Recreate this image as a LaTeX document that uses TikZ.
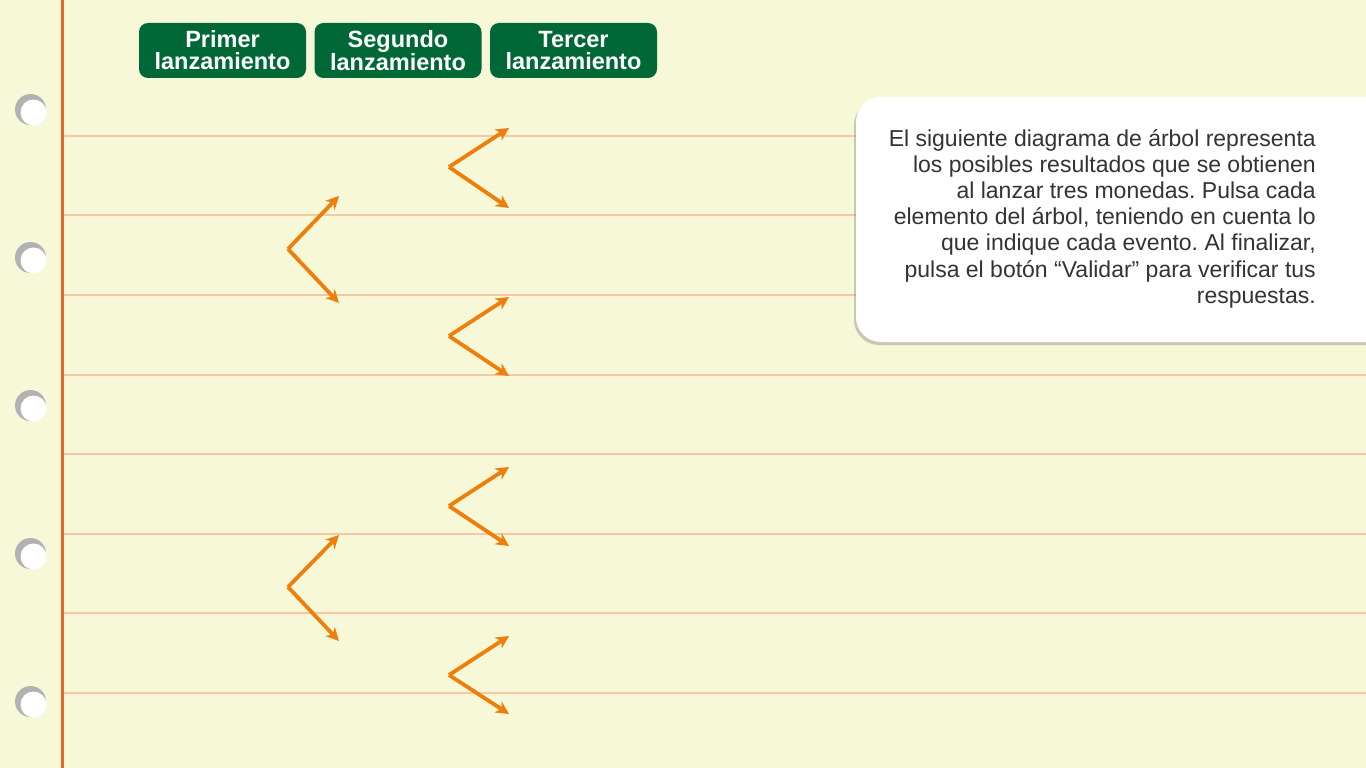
\documentclass[tikz,border=0pt]{standalone}
\usepackage{fontspec}
\setmainfont{Liberation Sans}
\usepackage{xcolor}
\usetikzlibrary{arrows.meta,positioning,shadows}
\definecolor{papel}{HTML}{F7F8D7}
\definecolor{renglon}{HTML}{F3C8A2}
\definecolor{margen}{HTML}{E8682C}
\definecolor{verde}{HTML}{006837}
\definecolor{naranja}{HTML}{EF7E0B}
\definecolor{texto}{HTML}{333333}
\frenchspacing

\begin{document}
\begin{tikzpicture}[x=1pt, y=-1pt,
  boton/.style={fill=verde, rounded corners=9pt, minimum width=167pt, minimum height=55pt,
    text=white, font=\fontsize{23.5}{22}\selectfont\bfseries, align=center, inner sep=0pt},
  flecha/.style={-{Stealth[length=13pt, width=13pt, inset=4pt]}, line width=3.8pt, naranja, line join=miter},
  agujero/.style={fill=gray!60}]
  % 1. Fondo de la hoja
  \useasboundingbox (0,0) rectangle (1366,768);
  \clip (0,0) rectangle (1366,768);
  \fill[papel] (0,0) rectangle (1366,768);

  % 2. Renglones
  \foreach \y in {136, 215, 295, 375, 454, 534, 613, 693}
    \draw[renglon, line width=1.2pt] (63,\y) -- (1366,\y);

  % 3. Linea de margen
  \draw[margen, line width=3pt] (62.5,0) -- (62.5,768);

  % 4. Agujeros
  \foreach \y in {110, 258, 406, 554, 702} {
    \fill[agujero] (30.5,\y-0.5) circle (15.5pt);
    \fill[white] (33.5,\y+2.5) circle (13pt);
  }

  % 5. Botones de encabezado
  \node[boton] (primer) at (222.5,50.5) {\vphantom{Sd}Primer\\lanzamiento};
  \node[boton] (segundo) at (398,50.5) {\vphantom{Sd}Segundo\\lanzamiento};
  \node[boton] (tercer) at (573.5,50.5) {\vphantom{Sd}Tercer\\lanzamiento};

  % 6. Ramas del arbol
  \foreach \n/\x/\y/\dx/\du/\dd in {s1/288/249/51/53/54, s2/288/587/51/52/54,
      t1/449/167/60/39/41, t2/449/336/60/39/40, t3/449/506/60/39/40, t4/449/675/60/39/39} {
    \coordinate (\n) at (\x,\y);
    \coordinate (\n-arriba) at (\x+\dx,\y-\du);
    \coordinate (\n-abajo) at (\x+\dx,\y+\dd);
    \draw[flecha] (\n) -- (\n-arriba);
    \draw[flecha] (\n) -- (\n-abajo);
  }

  % 7. Cuadro de instrucciones
  \fill[white, rounded corners=25pt, drop shadow={shadow xshift=-2pt, shadow yshift=-3pt, opacity=0.4}]
    (856,97) rectangle (1420,342);
  \node[anchor=north east, inner sep=0pt, align=right, text=texto,
    font=\fontsize{23}{26.2}\selectfont] (instrucciones) at (1316,129)
    {El siguiente diagrama de árbol representa\\
     los posibles resultados que se obtienen\\
     al lanzar tres monedas. Pulsa cada\\
     elemento del árbol, teniendo en cuenta lo\\
     que indique cada evento. Al finalizar,\\
     pulsa el botón “Validar” para verificar tus\\
     respuestas.};
\end{tikzpicture}
\end{document}
